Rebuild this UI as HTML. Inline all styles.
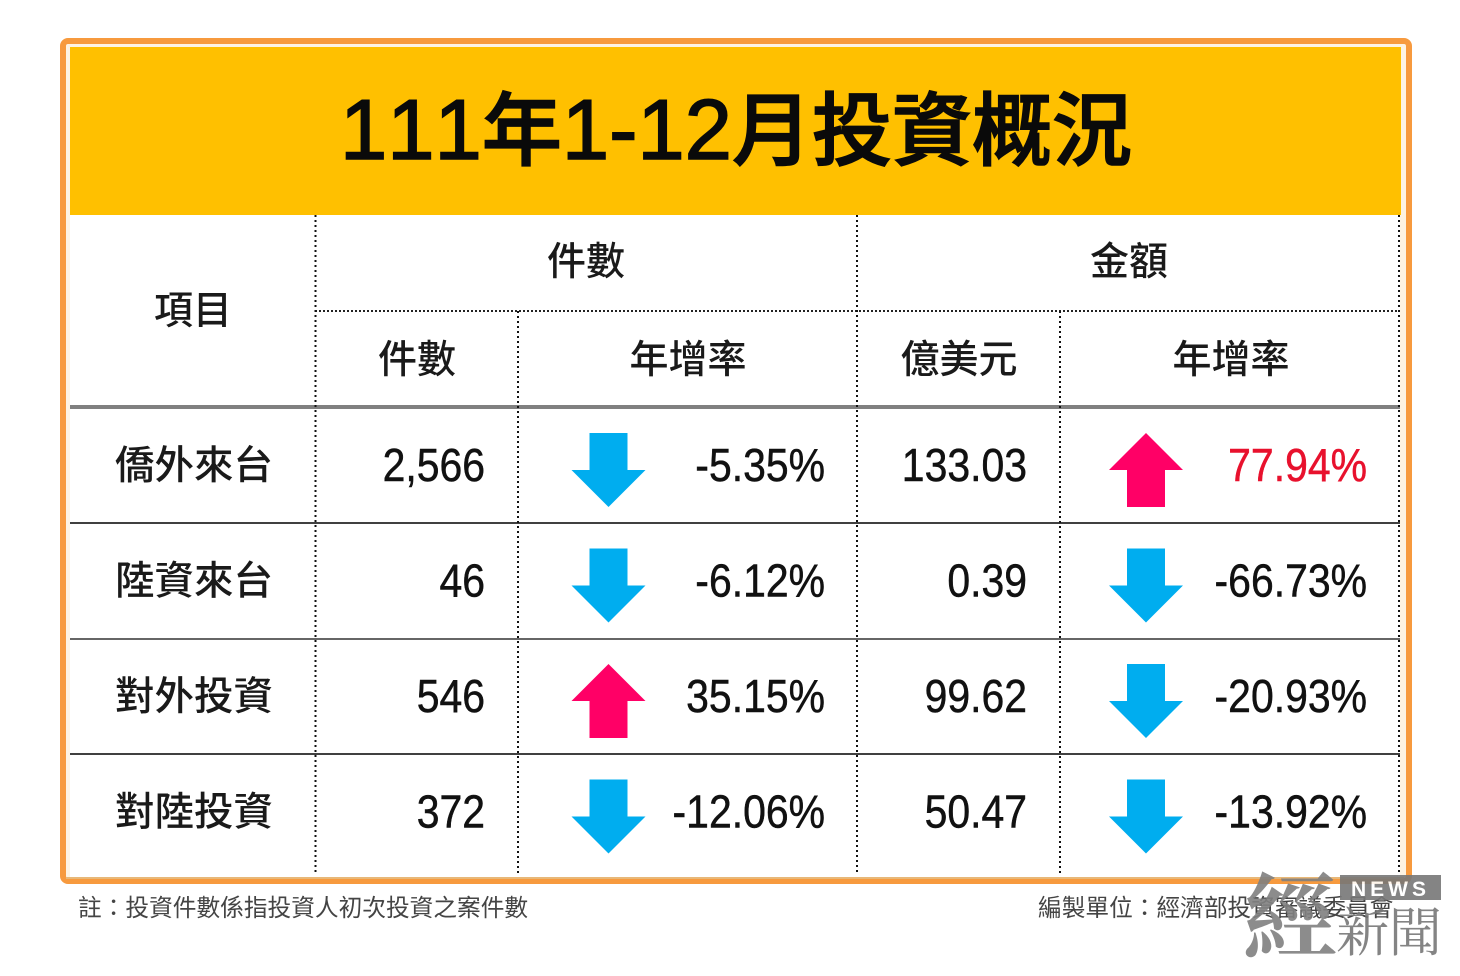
<!DOCTYPE html>
<html lang="zh-Hant">
<head>
<meta charset="utf-8">
<title>111年1-12月投資概況</title>
<style>
html,body{margin:0;padding:0;background:#fff;width:1460px;height:976px;overflow:hidden}
svg{display:block;font-family:"Liberation Sans","Noto Sans CJK TC",sans-serif}
.head{font-size:39px;fill:#1a1a1a;text-anchor:middle;font-weight:500}
.note{font-size:23.7px;fill:#444}
</style>
</head>
<body>
<svg id="chart" width="1460" height="976" viewBox="0 0 1460 976" xmlns="http://www.w3.org/2000/svg">
  <rect x="63" y="41" width="1346" height="840" rx="5" fill="#fdf3e3" stroke="#f79a3e" stroke-width="6"/>
  <rect x="70" y="47" width="1331" height="168" fill="#ffc000"/>
  <rect x="70" y="215" width="1330" height="663" fill="#fff"/>
  <rect x="66" y="877" width="1338" height="2" fill="#e8b878"/>
  <text x="340" y="159" font-size="80" font-weight="500" fill="#0a0a0a" stroke="#0a0a0a" stroke-width="1.6" style="font-kerning:none"><tspan font-size="85">111</tspan>年<tspan font-size="85">1-12</tspan>月投資概況</text>

  <g>
    <line x1="315" x2="1400" y1="311" y2="311" stroke="#222" stroke-width="2" stroke-dasharray="2 2"/>
    <rect x="70" y="405" width="1330" height="4" fill="#808080"/>
    <rect x="70" y="522" width="1330" height="2" fill="#404040"/>
    <rect x="70" y="638" width="1330" height="2" fill="#666"/>
    <rect x="70" y="753" width="1330" height="2" fill="#404040"/>
    <line x1="315.5" x2="315.5" y1="215" y2="874" stroke="#111" stroke-width="2" stroke-dasharray="2 3"/>
    <line x1="518" x2="518" y1="311" y2="874" stroke="#111" stroke-width="2" stroke-dasharray="2 3"/>
    <line x1="857" x2="857" y1="215" y2="874" stroke="#111" stroke-width="2" stroke-dasharray="2 3"/>
    <line x1="1060" x2="1060" y1="311" y2="874" stroke="#111" stroke-width="2" stroke-dasharray="2 3"/>
    <line x1="1399" x2="1399" y1="215" y2="874" stroke="#111" stroke-width="2" stroke-dasharray="2 3"/>
  </g>

  <g>
    <text class="head" x="193" y="324">項目</text>
    <text class="head" x="586" y="275">件數</text>
    <text class="head" x="1129" y="275">金額</text>
    <text class="head" x="417" y="373">件數</text>
    <text class="head" x="688" y="373">年增率</text>
    <text class="head" x="959" y="373">億美元</text>
    <text class="head" x="1231" y="373">年增率</text>
  </g>

  <g id="rows"></g>

  <text class="note" x="78" y="916">註：投資件數係指投資人初次投資之案件數</text>
  <text class="note" x="1038" y="916">編製單位：經濟部投資審議委員會</text>

  <g opacity="0.9">
    <text x="1243" y="951" font-size="94" font-weight="700" fill="#808080" style="font-family:'Noto Serif CJK SC','Liberation Serif',serif">經</text>
    <rect x="1340" y="875" width="101" height="25" fill="#777"/>
    <text x="1390.5" y="896" font-size="21" font-weight="700" fill="#fff" text-anchor="middle" letter-spacing="4">NEWS</text>
    <text x="1336" y="951" font-size="53" fill="#777" style="font-family:'Noto Serif CJK SC','Liberation Serif',serif">新聞</text>
  </g>
</svg>

<script>
const categories = ["僑外來台", "陸資來台", "對外投資", "對陸投資"];
const caseCounts = [2566, 46, 546, 372];
const caseGrowth = [-5.35, -6.12, 35.15, -12.06];
const amounts = [133.03, 0.39, 99.62, 50.47];
const amountGrowth = [77.94, -66.73, -20.93, -13.92];

const SVG_NS = "http://www.w3.org/2000/svg";
const rowsLayer = document.getElementById("rows");
const rowTop = 407, rowStep = 115.5;
const rowCenter = i => rowTop + rowStep * i + 58;

function node(tag, attrs, parent) {
  const el = document.createElementNS(SVG_NS, tag);
  Object.keys(attrs).forEach(k => el.setAttribute(k, attrs[k]));
  parent.appendChild(el);
  return el;
}

function numberText(str, rightX, cy, color, name) {
  const el = node("text", {
    transform: "translate(" + rightX + "," + (cy + 16) + ") scale(0.89,1)",
    "text-anchor": "end", "font-size": 46, fill: color,
    stroke: color, "stroke-width": 0.5
  }, rowsLayer);
  
  
  el.textContent = str;
}

function arrow(value, cx, cy, name) {
  const up = value >= 0;
  const h = up ? -1 : 1;
  const mid = cy + 5;
  const pts = [
    [cx - 19, mid - 37 * h], [cx + 19, mid - 37 * h], [cx + 19, mid],
    [cx + 37, mid], [cx, mid + 37 * h], [cx - 37, mid], [cx - 19, mid]
  ].map(p => p.join(",")).join(" ");
  const el = node("polygon", { points: pts, fill: up ? "#ff0066" : "#00adef" }, rowsLayer);
  
  
}

const pct = v => v.toFixed(2) + "%";

categories.forEach((cat, i) => {
  const cy = rowCenter(i);
  const label = node("text", {
    x: 194, y: cy + 14, "text-anchor": "middle", "font-size": 39.5,
    "font-weight": 500, fill: "#1a1a1a"
  }, rowsLayer);
  
  
  label.textContent = cat;

  numberText(caseCounts[i].toLocaleString("en-US"), 485, cy, "#111", "case-count-value");
  arrow(caseGrowth[i], 608.5, cy, "case-growth-arrow");
  numberText(pct(caseGrowth[i]), 825, cy, "#111", "case-growth-value");
  numberText(amounts[i].toFixed(2), 1027, cy, "#111", "amount-value");
  arrow(amountGrowth[i], 1146, cy, "amount-growth-arrow");
  numberText(pct(amountGrowth[i]), 1367, cy, amountGrowth[i] > 0 ? "#e8112d" : "#111", "amount-growth-value");
});
</script>
</body>
</html>
